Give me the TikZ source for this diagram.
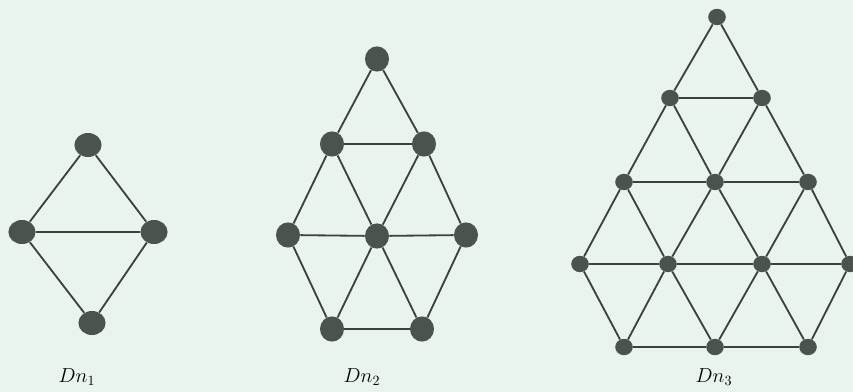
\documentclass[tikz,border=0pt]{standalone}
\usetikzlibrary{shapes.geometric}
\definecolor{bgMint}{HTML}{E9F4ED}
\definecolor{dotGray}{HTML}{4B534D}
\definecolor{edgeGray}{HTML}{3C413D}

\begin{document}
\begin{tikzpicture}[x=0.025cm, y=-0.025cm,
    big/.style={ellipse, fill=dotGray, inner sep=0pt,
                minimum width=0.68cm, minimum height=0.6cm},
    mid/.style={ellipse, fill=dotGray, inner sep=0pt,
                minimum width=0.6cm, minimum height=0.63cm},
    small/.style={ellipse, fill=dotGray, inner sep=0pt,
                  minimum width=0.44cm, minimum height=0.41cm},
    edge/.style={draw=edgeGray, line width=1.3pt},
    lbl/.style={font=\fontsize{14.5}{17}\selectfont},
  ]
    \fill[bgMint] (0,0) rectangle (853,392);
    \useasboundingbox (0,0) rectangle (853,392);

    % Dn_1
    \node[big] (a1) at (88,145) {};
    \node[big] (a2) at (22,232) {};
    \node[big] (a3) at (154,232) {};
    \node[big] (a4) at (92,323) {};
    \draw[edge] (a1) -- (a2) -- (a4) -- (a3) -- (a1);
    \draw[edge] (a2) -- (a3);
    \node[lbl] (l1) at (77,377) {$Dn_1$};

    % Dn_2
    \node[mid] (b1) at (377,59) {};
    \node[mid] (b2) at (332,144) {};
    \node[mid] (b3) at (424,144) {};
    \node[mid] (b4) at (288,235) {};
    \node[mid] (b5) at (377,236) {};
    \node[mid] (b6) at (466,235) {};
    \node[mid] (b7) at (332,329) {};
    \node[mid] (b8) at (422,329) {};
    \foreach \u/\v in {b1/b2, b1/b3, b2/b3, b2/b4, b2/b5, b3/b5, b3/b6,
                       b4/b5, b5/b6, b4/b7, b5/b7, b5/b8, b6/b8, b7/b8}
      \draw[edge] (\u) -- (\v);
    \node[lbl] (l2) at (362,377) {$Dn_2$};

    % Dn_3
    \node[small] (c1) at (717,17) {};
    \node[small] (c2) at (670,98) {};
    \node[small] (c3) at (762,98) {};
    \node[small] (c4) at (624,182) {};
    \node[small] (c5) at (715,182) {};
    \node[small] (c6) at (808,182) {};
    \node[small] (c7) at (580,264) {};
    \node[small] (c8) at (668,264) {};
    \node[small] (c9) at (762,264) {};
    \node[small] (c10) at (850,264) {};
    \node[small] (c11) at (624,347) {};
    \node[small] (c12) at (715,347) {};
    \node[small] (c13) at (808,347) {};
    \foreach \u/\v in {c1/c2, c1/c3, c2/c3, c2/c4, c2/c5, c3/c5, c3/c6,
                       c4/c5, c5/c6, c4/c7, c4/c8, c5/c8, c5/c9, c6/c9, c6/c10,
                       c7/c8, c8/c9, c9/c10, c7/c11, c8/c11, c8/c12, c9/c12,
                       c9/c13, c10/c13, c11/c12, c12/c13}
      \draw[edge] (\u) -- (\v);
    \node[lbl] (l3) at (714,377) {$Dn_3$};
  \end{tikzpicture}
\end{document}
